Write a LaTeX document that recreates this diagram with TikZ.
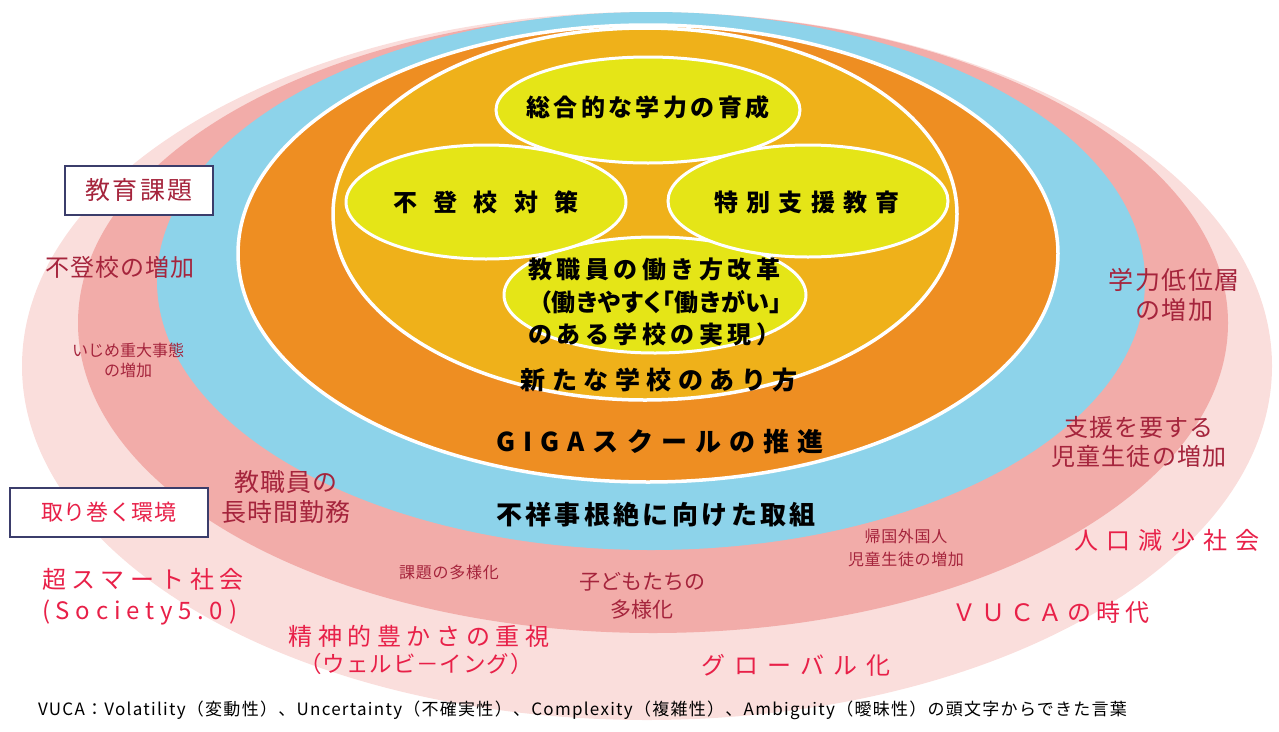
\documentclass[tikz,border=0pt]{standalone}
\usepackage{fontspec}
\setmainfont{Noto Sans CJK JP}
\definecolor{lpink}{HTML}{FADEDC}
\definecolor{mpink}{HTML}{F2ACA9}
\definecolor{skyb}{HTML}{8DD3EA}
\definecolor{orng}{HTML}{EE8E22}
\definecolor{gold}{HTML}{EFB11A}
\definecolor{yel}{HTML}{E5E517}
\definecolor{dred}{HTML}{A5243C}
\definecolor{pred}{HTML}{E82048}
\definecolor{navy}{HTML}{3B3D6B}
\newcommand\F[3]{\fontsize{#1}{#2}\selectfont\addfontfeature{LetterSpace=#3}}
\tikzset{
  lbl/.style={inner sep=0pt, outer sep=0pt},
  core/.style={lbl, text=black},
  issue/.style={lbl, text=dred, align=center},
  envt/.style={lbl, text=pred, align=center},
  ring/.style={draw=white, line width=3.5pt},
  pill/.style={draw=white, line width=3pt, fill=yel},
  tagbox/.style={draw=navy, line width=2.5pt, fill=white}
}
\begin{document}
\begin{tikzpicture}[x=1pt, y=-1pt]
\useasboundingbox (0,0) rectangle (1279,731);
% rings
\fill[lpink] (647,366) ellipse [x radius=625pt, y radius=354pt];
\fill[mpink] (653,323) ellipse [x radius=575pt, y radius=310pt];
\fill[skyb] (651,281) ellipse [x radius=494pt, y radius=269pt];
\filldraw[ring, fill=orng] (648,253.5) ellipse [x radius=410pt, y radius=228.5pt];
\filldraw[ring, fill=gold] (645,214) ellipse [x radius=312pt, y radius=186pt];
% inner pills
\filldraw[pill] (655,295) ellipse [x radius=151pt, y radius=58pt];
\filldraw[pill] (648,110) ellipse [x radius=152pt, y radius=53pt];
\filldraw[pill] (486,202) ellipse [x radius=140pt, y radius=57pt];
\filldraw[pill] (808,201) ellipse [x radius=140pt, y radius=56pt];
% core texts
\node[core, font=\F{24}{30}{14}\bfseries] (sogo) at (648,107) {総合的な学力の育成};
\node[core, font=\F{24}{30}{67}\bfseries] (futo) at (486,202) {不登校対策};
\node[core, font=\F{24}{30}{35}\bfseries] (tokubetsu) at (807,202) {特別支援教育};
\node[core, font=\F{24}{32.5}{19}\bfseries, align=left, anchor=west] (hataraki) at (528,302) {教職員の働き方改革\\\hspace*{11pt}{\addfontfeature{RawFeature=+palt,LetterSpace=3}（働きやすく「働きがい」}\\のある学校の実現）};
\node[core, font=\F{25}{30}{26}\bfseries] (atarashii) at (659,380) {新たな学校のあり方};
\node[core, font=\F{26}{30}{31}\bfseries] (giga) at (660,442) {GIGAスクールの推進};
\node[core, font=\F{26}{30}{13}\bfseries] (fusho) at (656,515) {不祥事根絶に向けた取組};
% tag boxes
\node[tagbox, minimum width=148pt, minimum height=49pt, inner sep=0pt, text=dred, font=\F{25}{30}{9}] (kadai) at (139,190.5) {教育課題};
\node[tagbox, minimum width=198pt, minimum height=49pt, inner sep=0pt, text=pred, font=\F{22}{30}{3}] (kankyo) at (109,512.5) {取り巻く環境};
% issues
\node[issue, font=\F{24}{30}{5}] (futoko) at (120,267) {不登校の増加};
\node[issue, font=\F{16}{20}{0}] (ijime) at (128,360) {いじめ重大事態\\の増加};
\node[issue, font=\F{25}{30}{4}] (chokan) at (286,497) {教職員の\\長時間勤務};
\node[issue, font=\F{16}{20}{5}] (tayo) at (449,572) {課題の多様化};
\node[issue, font=\F{21}{28}{0}] (kodomo) at (642,596) {子どもたちの\\多様化};
\node[issue, font=\F{16}{23}{4}] (kikoku) at (906,548) {帰国外国人\\児童生徒の増加};
\node[issue, font=\F{25}{30}{6}] (gakuryoku) at (1174,295) {学力低位層\\の増加};
\node[issue, font=\F{24}{29}{5}] (shien) at (1139,442) {支援を要する\\児童生徒の増加};
% environment
\node[envt, font=\F{24}{31}{24}, align=left, anchor=west] (smart) at (42,597) {超スマート社会\\(Society5.0)};
\node[envt, font=\F{24}{28}{23}] (seishin) at (419,636) {精神的豊かさの重視};
\node[envt, font=\F{22.5}{28}{4}] (wellbeing) at (416,664) {（ウェルビ－イング）};
\node[envt, font=\F{24}{30}{37}] (global) at (796,665) {グローバル化};
\node[envt, font=\F{24}{30}{20}] (vuca) at (1051,612) {ＶＵＣＡの時代};
\node[envt, font=\F{24}{30}{35}] (jinko) at (1167,540) {人口減少社会};
% footer
\node[lbl, text=black, font=\F{17}{20}{7.5}, anchor=west] (note) at (38,710) {VUCA：Volatility（変動性）、Uncertainty（不確実性）、Complexity（複雑性）、Ambiguity（曖昧性）の頭文字からできた言葉};
\end{tikzpicture}
\end{document}
